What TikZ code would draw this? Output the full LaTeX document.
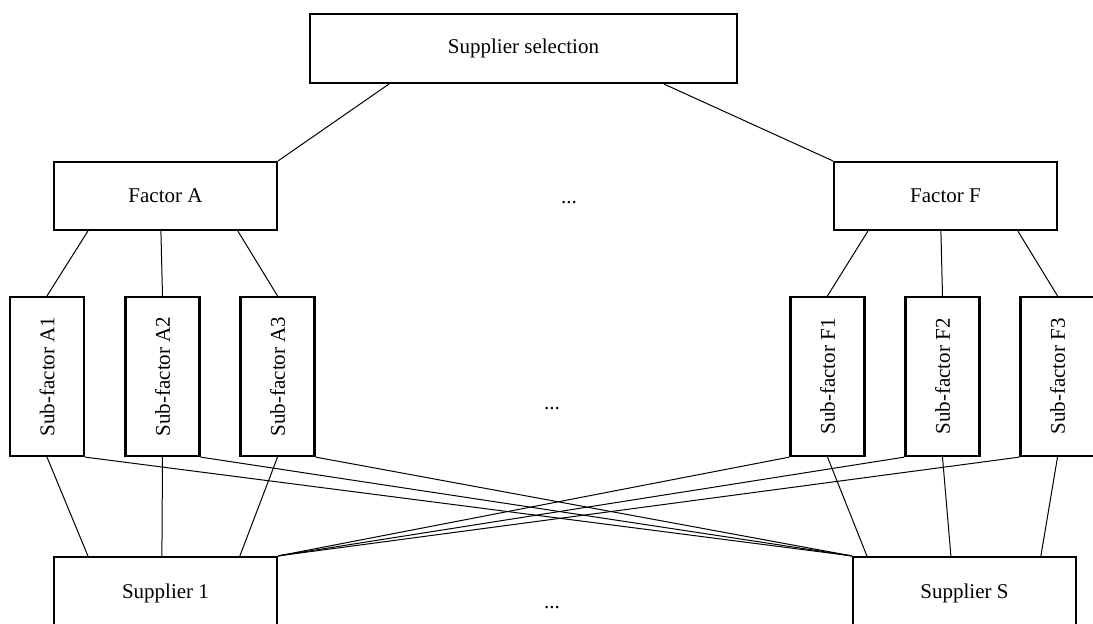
\documentclass[tikz,border=0pt]{standalone}
\usepackage{fontspec}
\usepackage{graphicx}
\setmainfont{Liberation Serif}
\usetikzlibrary{calc}
\begin{document}
\begin{tikzpicture}[x=1pt,y=-1pt,
  box/.style={draw,line width=2.2pt,inner sep=0pt,font=\fontsize{21}{25}\selectfont},
  hbox/.style={box,minimum width=223pt,minimum height=68pt},
  vbox/.style={box,minimum width=74pt,minimum height=159pt},
  link/.style={line width=1pt},
  dotsnode/.style={inner sep=0pt,font=\fontsize{21}{25}\selectfont}]
\useasboundingbox (0,0) rectangle (1093,624);
% top
\node[box,minimum width=427pt,minimum height=69pt] (top) at (523.5,48.5) {Supplier selection};
% factors
\node[hbox] (fa) at (165.5,196) {Factor A};
\node[hbox] (ff) at (945.5,196) {Factor F};
% sub-factors
\node[vbox] (a1) at (47,376.5) {\rotatebox{90}{Sub-factor A1}};
\node[vbox] (a2) at (162.5,376.5) {\rotatebox{90}{Sub-factor A2}};
\node[vbox] (a3) at (277.5,376.5) {\rotatebox{90}{Sub-factor A3}};
\node[vbox] (f1) at (827.5,376.5) {\rotatebox{90}{Sub-factor F1}};
\node[vbox] (f2) at (942.5,376.5) {\rotatebox{90}{Sub-factor F2}};
\node[vbox] (f3) at (1057.5,376.5) {\rotatebox{90}{Sub-factor F3}};
% suppliers
\node[hbox,minimum height=72pt] (s1) at (165.5,593) {Supplier 1};
\node[hbox,minimum height=72pt] (ss) at (964.5,593) {Supplier S};
% dots
\node[dotsnode] (d1) at (569,203) {...};
\node[dotsnode] (d2) at (552,409) {...};
\node[dotsnode] (d3) at (552,608) {...};
% top links
\draw[link] ($(top.south west)+(80,0)$) -- (fa.north east);
\draw[link] ($(top.south east)+(-74,0)$) -- (ff.north west);
% factor links
\draw[link] ($(fa.south west)+(35,0)$) -- (a1.north);
\draw[link] ($(fa.south west)+(108,0)$) -- (a2.north);
\draw[link] ($(fa.south west)+(185,0)$) -- (a3.north);
\draw[link] ($(ff.south west)+(35,0)$) -- (f1.north);
\draw[link] ($(ff.south west)+(108,0)$) -- (f2.north);
\draw[link] ($(ff.south west)+(185,0)$) -- (f3.north);
% sub-factor to supplier links
\draw[link] (a1.south) -- ($(s1.north west)+(35,0)$);
\draw[link] (a2.south) -- ($(s1.north west)+(109,0)$);
\draw[link] (a3.south) -- ($(s1.north west)+(187,0)$);
\draw[link] (f1.south) -- ($(ss.north west)+(15,0)$);
\draw[link] (f2.south) -- ($(ss.north west)+(99,0)$);
\draw[link] (f3.south) -- ($(ss.north west)+(189,0)$);
% cross links
\draw[link] (a1.south east) -- (ss.north west);
\draw[link] (a2.south east) -- (ss.north west);
\draw[link] (a3.south east) -- (ss.north west);
\draw[link] (f1.south west) -- (s1.north east);
\draw[link] (f2.south west) -- (s1.north east);
\draw[link] (f3.south west) -- (s1.north east);
\end{tikzpicture}
\end{document}
